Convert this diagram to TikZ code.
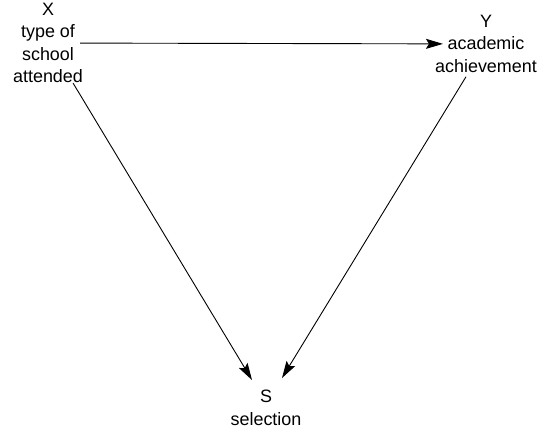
\documentclass[tikz,border=0pt]{standalone}
\usepackage{fontspec}
\setmainfont{Liberation Sans}
\usetikzlibrary{arrows.meta}

\begin{document}
\begin{tikzpicture}[x=1bp,y=1bp,
	var/.style={align=center,anchor=north,inner sep=0pt,font=\fontsize{18}{22.5}\selectfont},
	arr/.style={line width=0.9bp,-{Stealth[length=17bp,width=10bp,inset=3bp]}}]
	\useasboundingbox (0,0) rectangle (539,-428);
	
	%VARIABLES
	\node[var] (x) at (48,-3) {X\\type of\\school\\attended};
	\node[var] (y) at (486,-15) {Y\\academic\\achievement};
	\node[var] (s) at (266,-390) {S\\selection};
	
	%ARROWS
	\draw[arr] ([xshift=-3bp]x.east) -- ([xshift=8bp]y.west);	%X to Y
	\draw[arr] ([xshift=-10bp]x.south east) -- ([xshift=-14bp,yshift=10bp]s.north);	%X to S
	\draw[arr] ([xshift=-20bp,yshift=-4bp]y.south) -- ([xshift=16bp,yshift=12bp]s.north);	%Y to S
\end{tikzpicture}
\end{document}
